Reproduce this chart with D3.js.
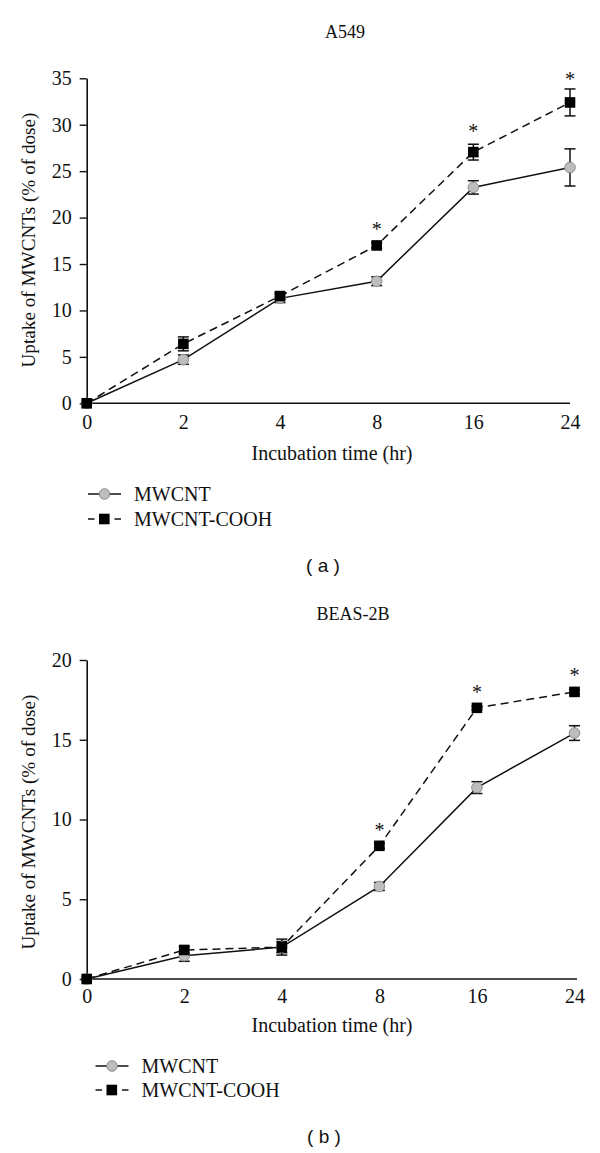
<!DOCTYPE html>
<html>
<head>
<meta charset="utf-8">
<script src="https://cdn.jsdelivr.net/npm/d3@7"></script>
<style>
  html, body { margin: 0; padding: 0; background: #fff; }
  svg { display: block; }
</style>
</head>
<body>
<svg id="chart" width="600" height="1153"></svg>
<script>
// ---------------- DATA ----------------
const timeLabels = ["0", "2", "4", "8", "16", "24"];

const a549Mwcnt    = [0, 4.7, 11.3, 13.15, 23.25, 25.4];
const a549MwcntErr = [0, 0.5, 0.45, 0.47, 0.72, 2.0];
const a549Cooh     = [0, 6.4, 11.55, 17.0, 27.05, 32.4];
const a549CoohErr  = [0, 0.75, 0.35, 0.3, 0.85, 1.45];
const a549Star     = [null, null, null, 19.0, 29.5, 35.1];
const a549Ticks    = [0, 5, 10, 15, 20, 25, 30, 35];

const beasMwcnt    = [0, 1.46, 2.0, 5.8, 12.0, 15.42];
const beasMwcntErr = [0, 0.35, 0.5, 0.25, 0.37, 0.46];
const beasCooh     = [0, 1.82, 2.0, 8.35, 17.0, 18.0];
const beasCoohErr  = [0, 0.2, 0.35, 0.15, 0.1, 0.15];
const beasStar     = [null, null, null, 9.45, 18.14, 19.2];
const beasTicks    = [0, 5, 10, 15, 20];

const seriesNames  = ["MWCNT", "MWCNT-COOH"];
const panelTitles  = ["A549", "BEAS-2B"];
const panelLetters = ["( a )", "( b )"];
const xTitle = "Incubation time (hr)";
const yTitle = "Uptake of MWCNTs (% of dose)";

// ---------------- DRAW ----------------
const svg = d3.select("#chart");
const SERIF = "'Liberation Serif', 'Times New Roman', serif";
const SANS = "'Liberation Sans', Arial, sans-serif";
const INK = "#111";

function panel(cfg) {
  const g = svg.append("g");
  const x = d3.scalePoint().domain(timeLabels).range([cfg.x0, cfg.x1]);
  const y = d3.scaleLinear().domain([0, cfg.yMax]).range([cfg.yBottom, cfg.yTop]);

  // title
  g.append("text").attr("x", cfg.titleX).attr("y", cfg.titleY)
    .attr("text-anchor", "middle").attr("font-family", SERIF).attr("font-size", 18)
    .attr("fill", INK).text(cfg.title);

  // y axis
  const ya = g.append("g").attr("transform", `translate(${cfg.x0},0)`)
    .call(d3.axisLeft(y).tickValues(cfg.ticks).tickSize(7).tickSizeOuter(0).tickPadding(8).tickFormat(d3.format("d")));
  ya.select(".domain").attr("stroke", INK).attr("stroke-width", 1.6);
  ya.selectAll(".tick line").attr("stroke", INK).attr("stroke-width", 1.4);
  ya.selectAll("text").attr("font-family", SERIF).attr("font-size", 20).attr("fill", INK);

  // x axis
  const xa = g.append("g").attr("transform", `translate(0,${cfg.yBottom})`)
    .call(d3.axisBottom(x).tickSize(0).tickSizeOuter(0).tickPadding(cfg.xPad));
  xa.select(".domain").attr("stroke", INK).attr("stroke-width", 1.6)
    .attr("d", `M${cfg.x0},0H${cfg.axisEnd}`);
  xa.selectAll("text").attr("font-family", SERIF).attr("font-size", 20).attr("fill", INK);

  // axis titles
  g.append("text").attr("x", cfg.xTitleX).attr("y", cfg.xTitleY)
    .attr("text-anchor", "middle").attr("font-family", SERIF).attr("font-size", 20)
    .attr("fill", INK).text(xTitle);
  g.append("text")
    .attr("transform", `translate(${cfg.yTitleX},${cfg.yTitleY}) rotate(-90)`)
    .attr("text-anchor", "middle").attr("font-family", SERIF).attr("font-size", 19.2)
    .attr("fill", INK).text(yTitle);

  const line = d3.line().x((d, i) => x(timeLabels[i])).y(d => y(d));

  // lines
  g.append("path").datum(cfg.m).attr("d", line).attr("fill", "none")
    .attr("stroke", INK).attr("stroke-width", 1.5);
  g.append("path").datum(cfg.c).attr("d", line).attr("fill", "none")
    .attr("stroke", INK).attr("stroke-width", 1.5).attr("stroke-dasharray", "8,5");

  // error bars
  function errBars(vals, errs) {
    const eg = g.append("g").attr("stroke", INK).attr("stroke-width", 1.5);
    vals.forEach((v, i) => {
      const e = errs[i];
      if (!e) return;
      const cx = x(timeLabels[i]);
      const yt = y(v + e), yb = y(v - e);
      eg.append("line").attr("x1", cx).attr("x2", cx).attr("y1", yt).attr("y2", yb);
      eg.append("line").attr("x1", cx - 5.5).attr("x2", cx + 5.5).attr("y1", yt).attr("y2", yt);
      eg.append("line").attr("x1", cx - 5.5).attr("x2", cx + 5.5).attr("y1", yb).attr("y2", yb);
    });
  }
  errBars(cfg.m, cfg.mErr);
  errBars(cfg.c, cfg.cErr);

  // markers
  g.selectAll(".circ").data(cfg.m).enter().append("circle")
    .attr("cx", (d, i) => x(timeLabels[i])).attr("cy", d => y(d)).attr("r", 5.3)
    .attr("fill", "#bdbdbd").attr("stroke", "#8c8c8c").attr("stroke-width", 1);
  g.selectAll(".sq").data(cfg.c).enter().append("rect")
    .attr("x", (d, i) => x(timeLabels[i]) - 5.3).attr("y", d => y(d) - 5.3)
    .attr("width", 10.6).attr("height", 10.6).attr("fill", "#000");

  // significance stars
  cfg.star.forEach((s, i) => {
    if (s == null) return;
    g.append("text").attr("x", x(timeLabels[i])).attr("y", y(s) + 9)
      .attr("text-anchor", "middle").attr("font-family", SERIF).attr("font-size", 20)
      .attr("fill", INK).text("*");
  });

  // legend
  const L = cfg.legend;
  const lg = g.append("g");
  lg.append("line").attr("x1", L.x).attr("x2", L.x + 33).attr("y1", L.y1).attr("y2", L.y1)
    .attr("stroke", INK).attr("stroke-width", 1.5);
  lg.append("circle").attr("cx", L.x + 16.5).attr("cy", L.y1).attr("r", 5.3)
    .attr("fill", "#bdbdbd").attr("stroke", "#8c8c8c").attr("stroke-width", 1);
  lg.append("line").attr("x1", L.x).attr("x2", L.x + 6.5).attr("y1", L.y2).attr("y2", L.y2)
    .attr("stroke", INK).attr("stroke-width", 1.5);
  lg.append("line").attr("x1", L.x + 26.5).attr("x2", L.x + 33).attr("y1", L.y2).attr("y2", L.y2)
    .attr("stroke", INK).attr("stroke-width", 1.5);
  lg.append("rect").attr("x", L.x + 11).attr("y", L.y2 - 5.3).attr("width", 10.6).attr("height", 10.6)
    .attr("fill", "#000");
  lg.append("text").attr("x", L.x + 46).attr("y", L.y1 + 7).attr("font-family", SERIF)
    .attr("font-size", 20).attr("fill", INK).text(seriesNames[0]);
  lg.append("text").attr("x", L.x + 46).attr("y", L.y2 + 7).attr("font-family", SERIF)
    .attr("font-size", 20).attr("fill", INK).text(seriesNames[1]);

  // panel letter
  g.append("text").attr("x", cfg.letterX).attr("y", cfg.letterY)
    .attr("text-anchor", "middle").attr("font-family", SANS).attr("font-size", 19)
    .attr("fill", INK).attr("xml:space", "preserve").style("white-space", "pre").text(cfg.letter);
}

panel({
  title: panelTitles[0], titleX: 345, titleY: 38,
  x0: 86.7, x1: 570, axisEnd: 570, yBottom: 403.3, yTop: 78.3, yMax: 35, ticks: a549Ticks,
  xPad: 12, xTitleX: 332, xTitleY: 460, yTitleX: 35, yTitleY: 240,
  m: a549Mwcnt, mErr: a549MwcntErr, c: a549Cooh, cErr: a549CoohErr, star: a549Star,
  legend: { x: 88, y1: 494, y2: 519 },
  letter: panelLetters[0], letterX: 323, letterY: 572
});

panel({
  title: panelTitles[1], titleX: 353, titleY: 620,
  x0: 86.7, x1: 574.5, axisEnd: 577, yBottom: 979, yTop: 660, yMax: 20, ticks: beasTicks,
  xPad: 10, xTitleX: 332, xTitleY: 1032, yTitleX: 35, yTitleY: 822,
  m: beasMwcnt, mErr: beasMwcntErr, c: beasCooh, cErr: beasCoohErr, star: beasStar,
  legend: { x: 95.5, y1: 1066, y2: 1090 },
  letter: panelLetters[1], letterX: 324, letterY: 1143
});
</script>
</body>
</html>
